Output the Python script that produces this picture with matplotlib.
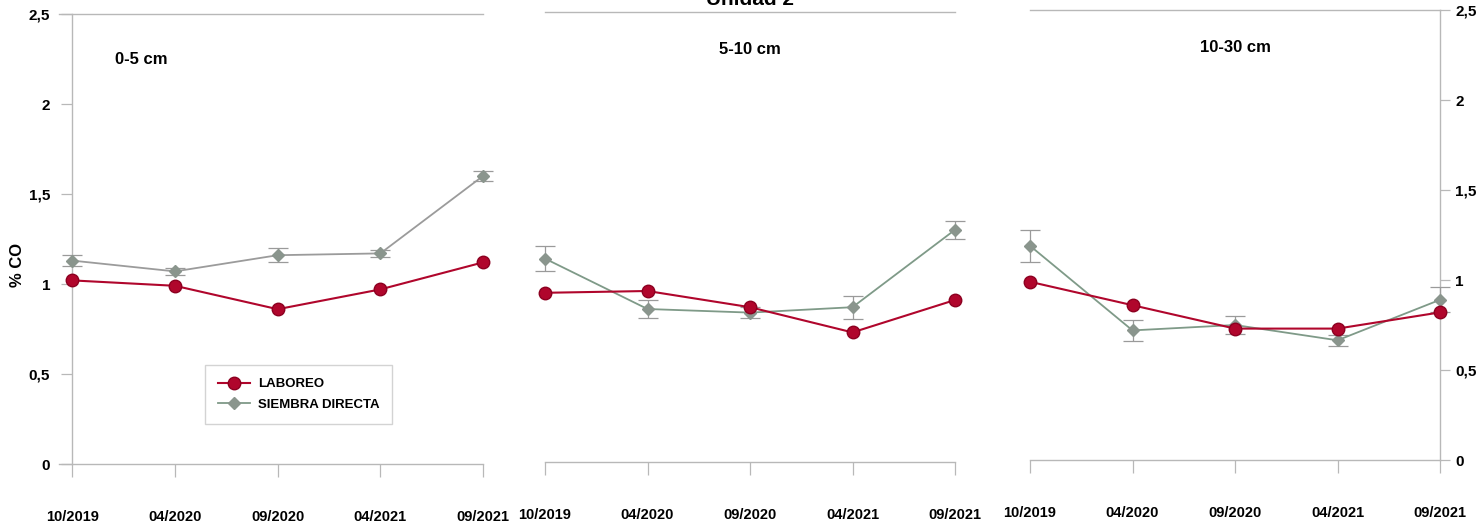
import matplotlib
matplotlib.use("Agg")
import matplotlib.pyplot as plt
from matplotlib.lines import Line2D
from matplotlib.ticker import FixedLocator, FuncFormatter

fechas = ["10/2019", "04/2020", "09/2020", "04/2021", "09/2021"]
profundidades = ["0-5 cm", "5-10 cm", "10-30 cm"]

laboreo = [
    [1.02, 0.99, 0.86, 0.97, 1.12],
    [0.94, 0.95, 0.86, 0.72, 0.90],
    [0.99, 0.86, 0.73, 0.73, 0.82],
]
siembra_directa = [
    [1.13, 1.07, 1.16, 1.17, 1.60],
    [1.13, 0.85, 0.83, 0.86, 1.29],
    [1.19, 0.72, 0.75, 0.665, 0.89],
]
error_sd = [
    [0.03, 0.02, 0.04, 0.02, 0.03],
    [0.07, 0.05, 0.03, 0.065, 0.05],
    [0.09, 0.06, 0.05, 0.03, 0.07],
]
titulo = "Unidad 2"
etiqueta_y = "% CO"
yticks = [0, 0.5, 1, 1.5, 2, 2.5]

W, H = 1483, 524
fig = plt.figure(figsize=(W / 100, H / 100), dpi=100)

FUENTE = ["Liberation Sans", "DejaVu Sans"]

ROJO = "#b0062c"
GRIS_LINEA = ["#9b9b9b", "#7f9a88", "#7f9a88"]
GRIS_MARCA = "#8a958d"
EJE = "#b8b8b8"

# (left x, right x, top y, bottom y) in pixels for each panel
cajas = [(59, 483, 14, 464), (545, 955, 12, 462), (1030, 1440, 10, 460)]


def coma(v, pos=None):
    return f"{v:g}".replace(".", ",")


for i, (x0, x1, yt, yb) in enumerate(cajas):
    ax = fig.add_axes([x0 / W, 1 - yb / H, (x1 - x0) / W, (yb - yt) / H])
    xs = list(range(len(fechas)))
    ax.set_ylim(0, 2.5)
    if i == 0:
        ax.set_xlim(-0.13, 4.0)
    else:
        ax.set_xlim(0, 4.0)

    ax.errorbar(xs, siembra_directa[i], yerr=error_sd[i], color=GRIS_LINEA[i],
                lw=1.3, marker="D", ms=6, mfc=GRIS_MARCA, mec=GRIS_MARCA,
                ecolor="#9a9a9a", elinewidth=0.9, capsize=7, capthick=0.9,
                clip_on=False, zorder=3)
    ax.plot(xs, laboreo[i], color=ROJO, lw=1.5, marker="o", ms=9,
            mfc=ROJO, mec="#8c0020", clip_on=False, zorder=4)

    for s in ax.spines.values():
        s.set_color(EJE)
        s.set_linewidth(1.0)
    ax.spines["right"].set_visible(i == 2)
    ax.spines["left"].set_visible(i == 0)
    if i == 0:
        ax.spines["left"].set_position(("data", 0))

    ax.xaxis.set_major_locator(FixedLocator(xs))
    ax.set_xticklabels(fechas, fontfamily=FUENTE, fontweight="bold", fontsize=10.5)
    ax.tick_params(axis="x", direction="out", length=9, width=0.9, color=EJE, pad=24)

    if i in (0, 2):
        if i == 2:
            ax.yaxis.tick_right()
        ax.yaxis.set_major_locator(FixedLocator(yticks))
        ax.yaxis.set_major_formatter(FuncFormatter(coma))
        ax.tick_params(axis="y", direction="out", length=8 if i == 0 else 7,
                       width=0.9, color=EJE, pad=8 if i == 0 else 4)
        for t in ax.get_yticklabels():
            t.set_fontfamily(FUENTE)
            t.set_fontweight("bold")
            t.set_fontsize(11)
    else:
        ax.set_yticks([])

    if i == 0:
        ax.text(0.42, 2.25, profundidades[i], fontfamily=FUENTE, fontweight="bold",
                fontsize=12, ha="left", va="center")
    else:
        ax.text(2.0, 2.29, profundidades[i], fontfamily=FUENTE, fontweight="bold",
                fontsize=12, ha="center", va="center")

    if i == 0:
        manejadores = [
            Line2D([0], [0], color=ROJO, lw=1.5, marker="o", ms=9, mfc=ROJO, mec="#8c0020"),
            Line2D([0], [0], color=GRIS_LINEA[1], lw=1.3, marker="D", ms=6,
                   mfc=GRIS_MARCA, mec=GRIS_MARCA),
        ]
        leg = ax.legend(manejadores, ["LABOREO", "SIEMBRA DIRECTA"],
                        loc="upper left", bbox_to_anchor=(0.344, 0.22),
                        frameon=True, fancybox=False, shadow=False,
                        prop={"family": FUENTE, "weight": "bold", "size": 9.5},
                        handlelength=2.4, handletextpad=0.6, borderpad=1.0,
                        labelspacing=0.6, borderaxespad=0)
        leg.get_frame().set_edgecolor("#c8c8c8")
        leg.get_frame().set_linewidth(1.0)
        leg.set_zorder(5)

fig.text(18 / W, 1 - 265 / H, etiqueta_y, rotation=90, ha="center", va="center",
         fontfamily=FUENTE, fontweight="bold", fontsize=12)
fig.text(750 / W, 1 - 5 / H, titulo, ha="center", va="baseline",
         fontfamily=FUENTE, fontweight="bold", fontsize=15)

fig.savefig("out.png", dpi=100, facecolor="white")
